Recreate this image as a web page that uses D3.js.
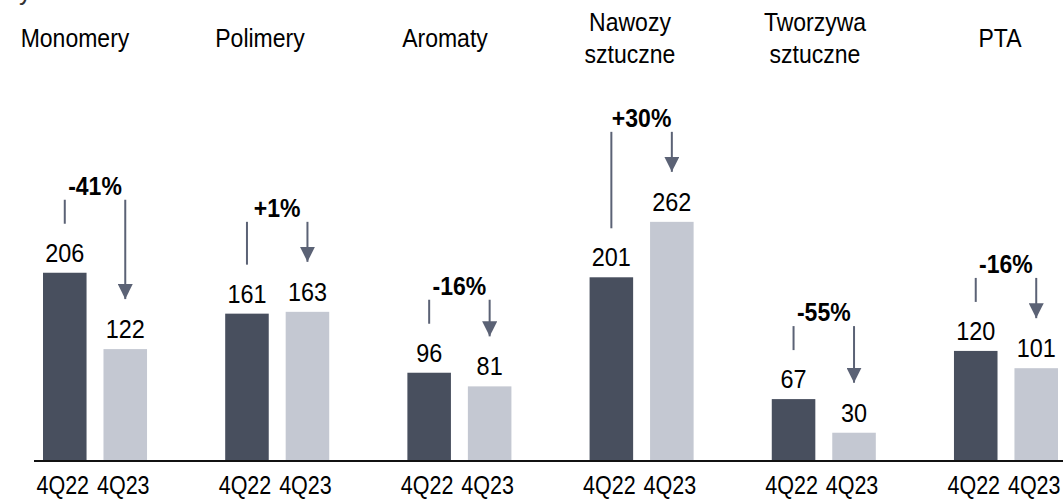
<!DOCTYPE html>
<html>
<head>
<meta charset="utf-8">
<script src="https://cdn.jsdelivr.net/npm/d3@7"></script>
<style>
  html, body { margin: 0; padding: 0; background: #fff; }
  svg { display: block; font-family: "Liberation Sans", Arial, sans-serif; }
</style>
</head>
<body>
<div id="chart"></div>
<script>
// dane
const categories = ['Monomery', 'Polimery', 'Aromaty', 'Nawozy\nsztuczne', 'Tworzywa\nsztuczne', 'PTA'];
const periods = ['4Q22', '4Q23'];
const values4Q22 = [206, 161, 96, 201, 67, 120];
const values4Q23 = [122, 163, 81, 262, 30, 101];
const unitLabel = 'tys. t';

const width = 1063, height = 499;
const baseY = 460;

const colors = { '4Q22': '#484f5e', '4Q23': '#c4c8d2' };
const arrowColor = '#5b6275';

const svg = d3.select('#chart').append('svg')
  .attr('width', width)
  .attr('height', height);

// grot strzałki (skierowany wzdłuż linii)
svg.append('defs').append('marker')
  .attr('id', 'head')
  .attr('viewBox', '0 0 15 15')
  .attr('refX', 15).attr('refY', 7.5)
  .attr('markerUnits', 'userSpaceOnUse')
  .attr('markerWidth', 15).attr('markerHeight', 15)
  .attr('orient', 'auto')
  .append('path')
  .attr('d', 'M0,0 L15,7.5 L0,15 Z')
  .attr('fill', arrowColor);

// skale
const x0 = d3.scaleBand()
  .domain(categories)
  .range([43, 1058])
  .paddingInner(0.429)
  .paddingOuter(0);

const x1 = d3.scaleBand()
  .domain(periods)
  .range([0, x0.bandwidth()])
  .paddingInner(0.28);

const y = d3.scaleLinear().domain([0, 300]).range([baseY, baseY - 272.7]);

const headerX = d3.scalePoint().domain(categories).range([75, 1000]);

// lekko zwężony tekst
function squeeze(sel, k) {
  sel.each(function () {
    const len = this.getComputedTextLength();
    d3.select(this).attr('textLength', len * k).attr('lengthAdjust', 'spacingAndGlyphs');
  });
}

const data = categories.map((c, i) => ({
  cat: c,
  a: values4Q22[i],
  b: values4Q23[i],
}));

// jednostka (ucięta u góry)
svg.append('text')
  .attr('x', 12).attr('y', 0)
  .attr('font-size', 25)
  .attr('fill', '#333')
  .text(unitLabel);

// nagłówki kategorii
const headers = svg.selectAll('.hdr')
  .data(categories)
  .join('text')
  .attr('class', 'hdr')
  .attr('font-size', 25)
  .attr('fill', '#000')
  .attr('text-anchor', 'middle');

headers.each(function (c) {
  const lines = c.split('\n');
  const lh = 32;
  const y0 = 47 - (lines.length - 1) * lh / 2;
  d3.select(this).selectAll('tspan')
    .data(lines)
    .join('tspan')
    .attr('x', headerX(c))
    .attr('y', (d, j) => y0 + j * lh)
    .text(d => d);
});
headers.selectAll('tspan').call(squeeze, 0.92);

// słupki
const groups = svg.selectAll('.grp')
  .data(data)
  .join('g')
  .attr('class', 'grp')
  .attr('transform', d => `translate(${x0(d.cat)},0)`);

groups.selectAll('rect')
  .data(d => [{ p: '4Q22', v: d.a }, { p: '4Q23', v: d.b }])
  .join('rect')
  .attr('x', d => x1(d.p))
  .attr('y', d => y(d.v))
  .attr('width', x1.bandwidth())
  .attr('height', d => baseY - y(d.v))
  .attr('fill', d => colors[d.p]);

groups.selectAll('.val')
  .data(d => [{ p: '4Q22', v: d.a }, { p: '4Q23', v: d.b }])
  .join('text')
  .attr('class', 'val')
  .attr('x', d => x1(d.p) + x1.bandwidth() / 2)
  .attr('y', d => y(d.v) - 11)
  .attr('text-anchor', 'middle')
  .attr('font-size', 26)
  .attr('fill', '#000')
  .text(d => d.v)
  .call(squeeze, 0.9);

// etykiety osi
groups.selectAll('.tick')
  .data(periods)
  .join('text')
  .attr('class', 'tick')
  .attr('x', d => x1(d) + x1.bandwidth() / 2 - 2)
  .attr('y', 494)
  .attr('text-anchor', 'middle')
  .attr('font-size', 25)
  .attr('fill', '#000')
  .text(d => d)
  .call(squeeze, 0.86);

// klamry ze zmianą %
groups.each(function (d) {
  const g = d3.select(this);
  const cxA = x1('4Q22') + x1.bandwidth() / 2;
  const cxB = x1('4Q23') + x1.bandwidth() / 2;
  const change = Math.round((d.b / d.a - 1) * 100);
  const top = y(Math.max(d.a, d.b)) - (change >= 0 ? 90 : 73);

  g.append('line')
    .attr('x1', cxA).attr('x2', cxA)
    .attr('y1', top).attr('y2', y(d.a) - 49)
    .attr('stroke', arrowColor)
    .attr('stroke-width', 2);

  g.append('line')
    .attr('x1', cxB).attr('x2', cxB)
    .attr('y1', top).attr('y2', y(d.b) - 50)
    .attr('stroke', arrowColor)
    .attr('stroke-width', 2)
    .attr('marker-end', 'url(#head)');

  g.append('text')
    .attr('x', (cxA + cxB) / 2)
    .attr('y', top - 5)
    .attr('text-anchor', 'middle')
    .attr('font-size', 25)
    .attr('font-weight', 'bold')
    .attr('fill', '#000')
    .text((change > 0 ? '+' : '') + change + '%')
    .call(squeeze, 0.92);
});

// linia bazowa
svg.append('line')
  .attr('x1', 34).attr('x2', width)
  .attr('y1', baseY + 1).attr('y2', baseY + 1)
  .attr('stroke', '#111')
  .attr('stroke-width', 2);
</script>
</body>
</html>
